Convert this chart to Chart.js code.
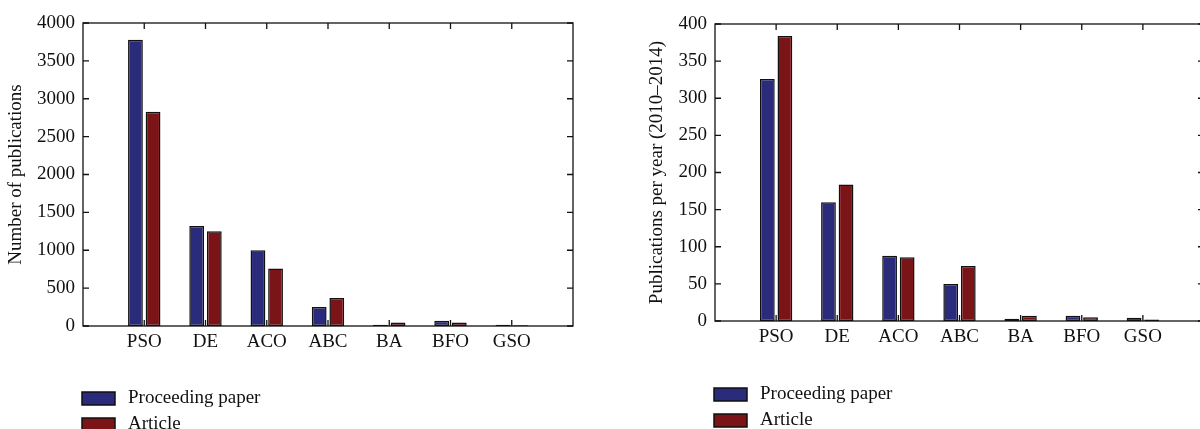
<!DOCTYPE html>
<html>
<head>
<meta charset="utf-8">
<script src="https://cdn.jsdelivr.net/npm/chart.js@4.4.1/dist/chart.umd.min.js"></script>
<style>
  html, body { margin: 0; padding: 0; background: #fff; overflow: hidden; width: 1200px; height: 429px; }
  #left { position: absolute; left: 0; top: 0; }
  #right { position: absolute; left: 640px; top: 0; }
</style>
</head>
<body>
<canvas id="left" width="600" height="429"></canvas>
<canvas id="right" width="580" height="429"></canvas>
<script>
  /* ========== DATA ========== */
  const CATEGORIES = ["PSO", "DE", "ACO", "ABC", "BA", "BFO", "GSO"];
  const SERIES = ["Proceeding paper", "Article"];
  const TOTAL_PROCEEDING = [3780, 1320, 1000, 250, 15, 70, 15];
  const TOTAL_ARTICLE = [2830, 1250, 760, 370, 45, 45, 10];
  const YEARLY_PROCEEDING = [326, 160, 88, 50, 3, 7, 4.5];
  const YEARLY_ARTICLE = [384, 184, 86, 74, 7, 5, 2];
  const TOTAL_TICKS = [0, 500, 1000, 1500, 2000, 2500, 3000, 3500, 4000];
  const YEARLY_TICKS = [0, 50, 100, 150, 200, 250, 300, 350, 400];

  /* ========== STYLE ========== */
  const BLUE = "#2a2b7a";
  const RED = "#7b1417";
  const INK = "#111";
  const FONT = "'Liberation Serif', 'DejaVu Serif', serif";
  const FONT_SIZE = 19;

  Chart.defaults.font.family = FONT;
  Chart.defaults.font.size = FONT_SIZE;
  Chart.defaults.color = INK;

  // matlab-like box with inward ticks + stacked legend underneath
  const frameLegend = {
    id: "frameLegend",
    afterDatasetsDraw(chart) {
      const { ctx, chartArea: a, scales: { x, y } } = chart;
      const t = 6;
      ctx.save();
      ctx.strokeStyle = INK;
      ctx.lineWidth = 1.3;
      ctx.strokeRect(a.left, a.top, a.right - a.left, a.bottom - a.top);
      ctx.beginPath();
      y.ticks.forEach((tk) => {
        const p = y.getPixelForValue(tk.value);
        ctx.moveTo(a.left, p); ctx.lineTo(a.left + t, p);
        ctx.moveTo(a.right, p); ctx.lineTo(a.right - t, p);
      });
      x.ticks.forEach((tk, i) => {
        if (!chart.data.labels[i]) return;
        const p = x.getPixelForTick(i);
        ctx.moveTo(p, a.top); ctx.lineTo(p, a.top + t);
        ctx.moveTo(p, a.bottom); ctx.lineTo(p, a.bottom - t);
      });
      ctx.stroke();
      ctx.restore();
    },
    afterDraw(chart, args, opts) {
      const { ctx } = chart;
      ctx.save();
      ctx.font = FONT_SIZE + "px " + FONT;
      ctx.textBaseline = "middle";
      chart.data.datasets.forEach((ds, i) => {
        const by = opts.y + i * 26;
        ctx.fillStyle = ds.backgroundColor;
        ctx.fillRect(opts.x, by, 33, 13);
        ctx.strokeStyle = INK;
        ctx.lineWidth = 1.5;
        ctx.strokeRect(opts.x, by, 33, 13);
        ctx.fillStyle = INK;
        ctx.fillText(ds.label, opts.x + 46, by + 6);
      });
      ctx.restore();
    },
  };

  function makeChart(id, left, right, ticks, title, cfg) {
    const pad = (arr) => [null, ...arr, null];
    return new Chart(document.getElementById(id), {
      type: "bar",
      data: {
        labels: ["", ...CATEGORIES, ""],
        datasets: [
          { label: SERIES[0], data: pad(left), backgroundColor: BLUE },
          { label: SERIES[1], data: pad(right), backgroundColor: RED },
        ].map((d) => ({
          ...d,
          borderColor: INK,
          borderWidth: 1.5,
          borderSkipped: false,
          categoryPercentage: 0.575,
          barPercentage: 0.84,
        })),
      },
      options: {
        responsive: false,
        animation: false,
        layout: { padding: cfg.padding },
        plugins: {
          legend: { display: false },
          tooltip: { enabled: false },
          frameLegend: cfg.legend,
        },
        scales: {
          x: {
            offset: false,
            grid: { display: false, drawTicks: false },
            border: { display: false },
            ticks: { padding: 5, maxRotation: 0, autoSkip: false },
            afterFit: (s) => { s.height = cfg.xHeight; },
          },
          y: {
            min: ticks[0],
            max: ticks[ticks.length - 1],
            grid: { display: false, drawTicks: false },
            border: { display: false },
            ticks: { padding: 8, callback: (v) => String(v) },
            afterBuildTicks: (s) => { s.ticks = ticks.map((v) => ({ value: v })); },
            afterFit: (s) => { s.width = cfg.yWidth; },
            title: { display: true, text: title, font: { size: FONT_SIZE }, padding: { top: cfg.titlePad } },
          },
        },
      },
      plugins: [frameLegend],
    });
  }

  makeChart("left", TOTAL_PROCEEDING, TOTAL_ARTICLE, TOTAL_TICKS, "Number of publications", {
    padding: { left: 0, top: 23, right: 27, bottom: 0 },
    yWidth: 83,
    xHeight: 103,
    titlePad: 5,
    legend: { x: 82, y: 392 },
  });

  makeChart("right", YEARLY_PROCEEDING, YEARLY_ARTICLE, YEARLY_TICKS, "Publications per year (2010\u20132014)", {
    padding: { left: 0, top: 24, right: 16, bottom: 0 },
    yWidth: 75,
    xHeight: 108,
    titlePad: 6,
    legend: { x: 74, y: 388 },
  });
</script>
</body>
</html>
